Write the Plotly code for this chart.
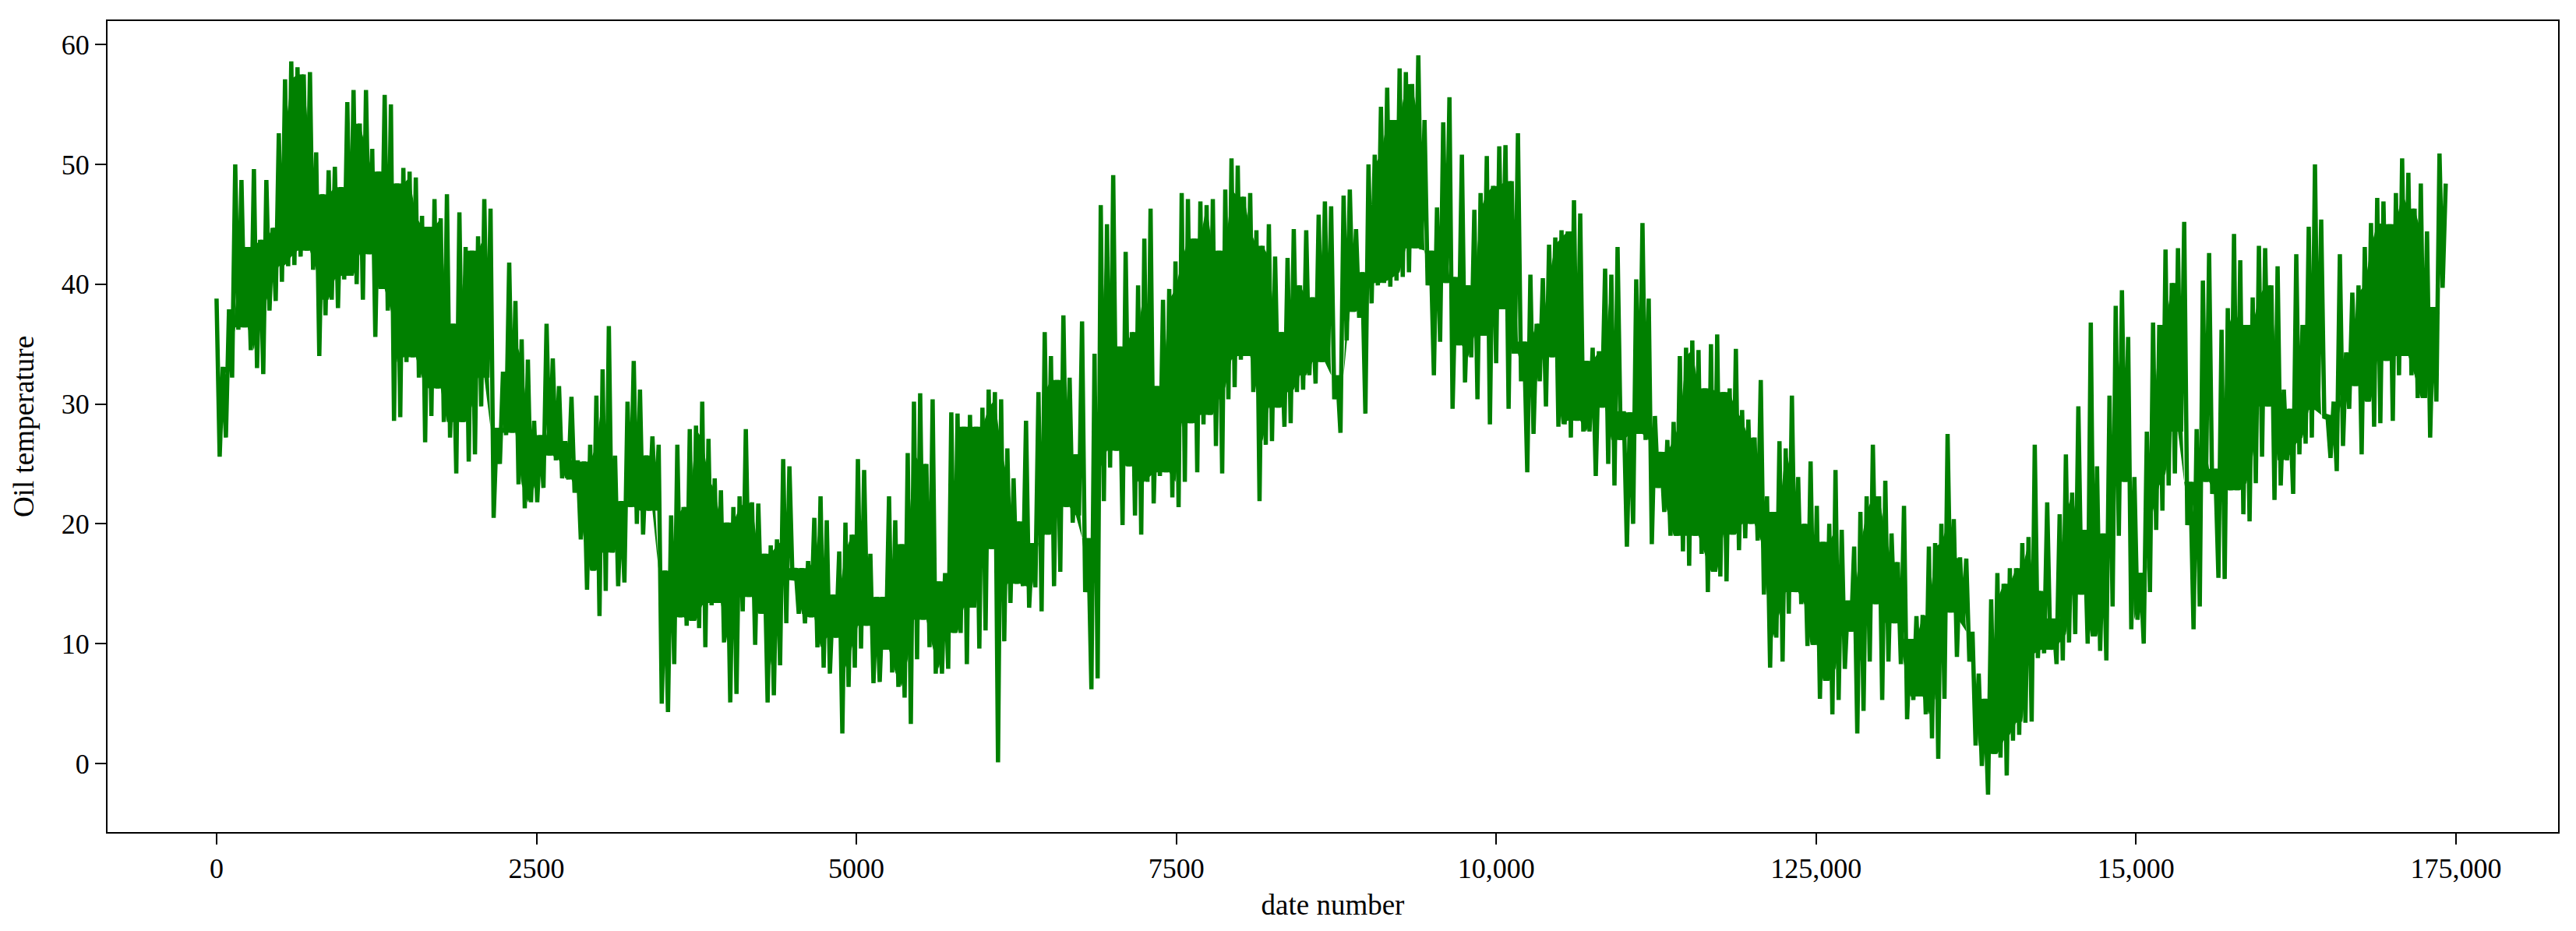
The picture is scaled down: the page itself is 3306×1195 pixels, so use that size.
import plotly.graph_objects as go

# picos y valles, por tramos del eje x
upper_a = [38.8,33.1,37.9,50.0,48.7,43.1,49.6,43.7,48.7,44.7,
           52.6,57.1,58.6,58.1,57.5,57.7,51.0,47.5,49.5,49.8,
           48.1,55.2,56.2,53.4,56.2,51.3,49.4,55.8,55.0,48.4,
           49.7,49.4,48.9,45.7,44.8,47.1,45.5,47.5,36.7,46.0,
           43.1,42.8,44.0,47.1,46.3,28.0,32.7,41.8,38.6,35.4,
           33.7,28.6,27.4,36.7,33.8,31.5,26.9,30.6,25.3]
lower_a = [25.6,27.2,32.2,36.2,36.4,34.5,33.0,32.5,37.8,38.6,
           40.2,41.5,41.6,42.3,42.8,41.2,34.0,37.4,38.7,38.0,
           40.4,40.7,40.0,38.7,42.5,35.6,39.6,37.8,28.6,28.9,
           33.5,33.9,32.2,26.8,29.0,31.3,28.5,27.2,24.2,28.5,
           25.2,25.8,29.8,32.2,20.5,25.0,27.4,27.6,23.3,21.3,
           21.8,21.8,23.0,25.7,25.3,23.8,23.7,22.6,18.7]
upper_b = [25.2,26.6,30.7,32.9,36.5,25.7,21.9,30.2,33.6,31.2,
           25.7,27.3,26.6,16.1,20.7,26.6,21.4,27.9,28.2,30.2,
           27.1,23.8,22.8,20.1,21.4,22.3,27.9,21.8,21.7,17.5,
           18.2,18.7,25.4,24.8,16.3,16.3,16.9,20.5,22.3,20.3,
           14.1,17.7,20.1,19.1,25.4,24.5,17.5,13.9,13.9,22.3,
           20.3,18.3,25.9,30.2,30.9,25.0,30.4,15.2,15.9,29.3]
lower_b = [14.5,16.1,12.3,14.4,17.6,14.8,15.1,21.4,20.0,19.1,
           21.1,21.1,5.0,4.3,8.3,12.2,11.5,11.9,11.3,9.7,
           13.2,13.4,10.1,5.1,5.8,12.7,13.9,9.9,12.5,5.1,
           5.7,8.2,11.7,15.3,12.5,11.7,12.2,9.7,8.0,7.5,
           10.5,2.5,6.4,8.0,9.6,11.5,6.7,6.8,9.5,7.6,
           6.4,5.5,3.3,8.7,12.0,9.7,7.5,7.5,7.9,10.9]
upper_c = [29.2,28.1,29.1,28.1,29.7,31.2,31.0,30.4,26.3,23.8,
           20.2,28.6,18.4,31.0,36.0,34.0,32.0,37.4,32.2,25.8,
           36.9,18.8,34.2,46.6,45.0,49.1,34.8,42.7,36.0,39.9,
           43.8,46.3,31.5,38.7,39.6,41.9,47.6,47.1,43.8,46.9,
           46.6,47.1,42.8,47.9,50.5,49.9,47.3,47.6,44.5,43.2,
           45.0,42.3,36.0,42.2,44.6,39.9,44.5,38.9,45.8,46.9]
lower_c = [10.9,8.3,13.0,9.6,11.1,17.9,0.1,10.2,13.4,15.0,
           14.8,13.0,14.7,12.7,19.1,14.8,16.0,21.4,20.1,20.7,
           14.3,6.2,7.1,21.9,24.7,26.1,19.9,24.8,20.7,19.1,
           23.5,21.7,24.0,24.3,22.2,21.4,23.5,28.4,24.3,28.3,
           29.1,26.5,24.2,30.4,31.4,33.7,34.0,31.0,21.9,26.6,
           26.9,29.7,28.1,28.4,31.0,31.2,32.4,31.7,33.5,33.5]
upper_d = [46.5,32.4,47.4,47.9,44.6,41.0,50.0,50.8,54.8,56.4,
           53.7,58.0,57.7,56.7,59.1,53.7,42.8,46.4,53.5,55.6,
           40.6,50.8,39.9,46.2,47.6,50.7,48.2,51.5,51.6,48.6,
           52.6,35.2,40.8,36.7,40.5,43.3,43.9,44.5,44.4,47.0,
           45.9,33.6,34.7,34.4,41.3,40.8,43.1,29.4,29.3,40.4,
           45.1,38.8,29.0,26.0,27.0,28.5,34.0,34.7,35.3,34.5]
lower_d = [30.4,27.6,35.3,37.7,37.2,29.2,38.4,39.9,40.1,39.8,
           40.3,40.6,41.0,43.0,42.9,39.9,32.4,35.2,40.1,29.6,
           34.9,31.8,33.9,30.4,35.7,28.3,33.4,37.9,29.6,34.2,
           31.9,24.3,27.5,31.9,29.8,33.9,28.1,28.3,27.2,28.6,
           27.7,27.7,24.0,29.7,25.0,23.2,27.0,18.1,20.0,27.5,
           27.0,18.3,23.0,21.0,19.0,19.0,17.7,16.5,19.0,17.5]
upper_e = [31.3,35.0,35.8,31.0,31.3,34.6,29.5,28.7,27.2,32.0,
           22.3,21.0,26.9,26.3,30.7,23.9,20.0,25.2,21.5,18.5,
           20.0,24.5,19.5,13.6,18.1,21.0,22.3,26.6,22.3,23.6,
           19.2,16.8,21.5,10.4,12.3,12.4,18.1,18.4,20.0,27.5,
           20.4,17.2,17.1,11.0,7.5,5.4,13.7,15.9,15.0,16.3,
           16.3,18.4,18.9,26.6,14.4,21.8,12.1,20.8,25.8,22.6]
lower_e = [14.3,16.0,15.6,15.2,19.1,17.8,18.8,20.0,18.6,14.1,
           8.0,10.5,8.5,12.5,14.3,13.3,9.8,9.9,5.4,6.9,
           4.1,5.3,7.9,11.0,2.5,4.4,8.5,13.3,5.3,8.5,
           11.7,8.3,3.7,5.3,5.6,4.1,2.1,0.4,5.4,12.6,
           8.9,11.8,8.5,1.5,-0.2,-2.6,0.8,0.5,-1.0,1.9,
           2.4,3.4,3.5,8.8,9.2,9.5,8.3,8.6,10.1,10.8]
upper_f = [29.8,19.5,36.8,24.8,19.2,30.7,38.2,39.5,35.6,23.9,
           15.9,27.7,36.8,36.6,42.9,40.1,43.0,45.2,23.5,27.9,
           40.3,42.6,24.6,36.2,38.0,44.2,42.0,36.6,38.9,43.2,
           43.0,39.9,41.5,31.2,29.6,42.5,36.6,44.8,50.0,45.4,
           29.1,30.2,42.5,34.3,39.3,39.9,43.1,45.1,47.2,46.9,
           45.0,47.6,50.5,49.3,46.3,48.4,44.4,38.1,50.9,48.4]
lower_f = [14.1,10.0,10.6,9.4,8.6,13.1,19.0,23.5,11.2,12.0,
           10.0,14.3,19.5,21.1,23.2,24.2,27.7,19.9,11.2,13.1,
           23.5,22.5,15.5,15.4,22.8,22.8,20.8,20.2,23.4,25.6,
           29.8,22.0,23.2,25.3,22.5,25.8,26.7,27.2,29.5,28.8,
           25.5,24.4,26.5,29.6,31.5,25.8,30.2,28.1,28.4,33.6,
           28.6,32.4,34.0,32.4,30.5,30.5,27.2,30.2,39.7]

x_ticks = [0, 2500, 5000, 7500, 10000, 12500, 15000, 17500]
x_tick_labels = ["0", "2500", "5000", "7500", "10,000", "125,000", "15,000", "175,000"]
y_ticks = [0, 10, 20, 30, 40, 50, 60]

upper = upper_a + upper_b + upper_c + upper_d + upper_e + upper_f
lower = lower_a + lower_b + lower_c + lower_d + lower_e + lower_f

# la serie va alternando pico y valle
oil_temp = []
for i, v in enumerate(upper):
    oil_temp.append(v)
    if i < len(lower):
        oil_temp.append(lower[i])

last_date = 17420
date_number = [i * last_date / (len(oil_temp) - 1) for i in range(len(oil_temp))]

# nucleo solido de la banda: lo que queda entre los picos y valles vecinos
core_x, core_top, core_bottom = [], [], []
for i in range(1, len(lower) - 1):
    top = min(upper[i - 1:i + 2])
    bottom = max(lower[i - 1:i + 2])
    core_x.append(date_number[2 * i])
    core_top.append(top)
    core_bottom.append(min(top, bottom))

fig = go.Figure()
fig.add_trace(go.Scatter(x=core_x, y=core_bottom, mode="lines", line=dict(width=0),
                         showlegend=False, hoverinfo="skip"))
fig.add_trace(go.Scatter(x=core_x, y=core_top, mode="lines", line=dict(width=0),
                         fill="tonexty", fillcolor="green", showlegend=False, hoverinfo="skip"))
fig.add_trace(go.Scatter(x=date_number, y=oil_temp, mode="lines",
                         line=dict(color="green", width=5.5), showlegend=False))

fig.update_layout(
    width=3306, height=1195,
    margin=dict(l=138, r=23, t=27, b=127),
    paper_bgcolor="white", plot_bgcolor="white",
    font=dict(family="Liberation Serif", size=36, color="black"),
)
fig.update_xaxes(range=[-852, 18298], tickvals=x_ticks, ticktext=x_tick_labels,
                 title=dict(text="date number", standoff=14, font=dict(size=37)),
                 showgrid=False, zeroline=False, showline=True, mirror=True,
                 linecolor="black", linewidth=2, ticks="outside", ticklen=14,
                 tickwidth=2, tickcolor="black")
fig.update_yaxes(range=[-5.72, 61.96], tickvals=y_ticks,
                 title=dict(text="Oil temperature", standoff=24, font=dict(size=37)),
                 showgrid=False, zeroline=False, showline=True, mirror=True,
                 linecolor="black", linewidth=2, ticks="outside", ticklen=14,
                 tickwidth=2, tickcolor="black")

fig.write_html("out.html", config={"displayModeBar": False},
               post_script="document.body.style.margin='0';")
